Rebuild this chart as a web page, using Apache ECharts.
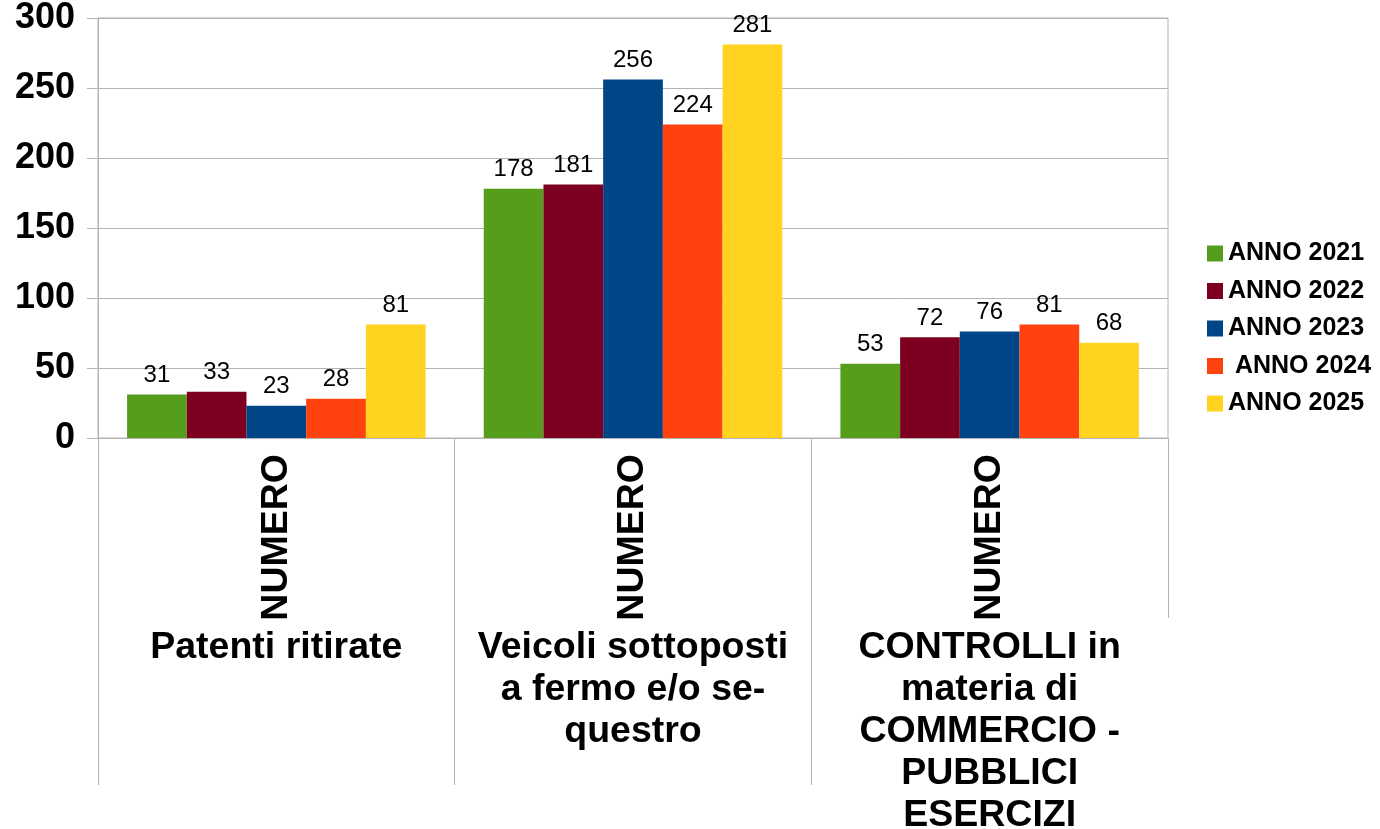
<!DOCTYPE html>
<html>
<head>
<meta charset="utf-8">
<script src="https://cdn.jsdelivr.net/npm/echarts@6/dist/echarts.min.js"></script>
<style>
html,body{margin:0;padding:0;background:#fff;}
#chart{width:1380px;height:829px;}
</style>
</head>
<body>
<div id="chart"></div>
<script>
var innerCategories = ['NUMERO', 'NUMERO', 'NUMERO'];
var outerCategories = [
  'Patenti ritirate',
  'Veicoli sottoposti\na fermo e/o se-\nquestro',
  'CONTROLLI in\nmateria di\nCOMMERCIO -\nPUBBLICI\nESERCIZI'
];
var seriesNames = ['ANNO 2021', 'ANNO 2022', 'ANNO 2023', ' ANNO 2024', 'ANNO 2025'];
var anno2021 = [31, 178, 53];
var anno2022 = [33, 181, 72];
var anno2023 = [23, 256, 76];
var anno2024 = [28, 224, 81];
var anno2025 = [81, 281, 68];
var yTicks = { min: 0, max: 300, interval: 50 };

var colors = ['#579D1C', '#7E0021', '#004586', '#FF420E', '#FFD320'];
var seriesData = [anno2021, anno2022, anno2023, anno2024, anno2025];
var FONT = '"Liberation Sans", Arial, sans-serif';
var GRID_LINE = '#b3b3b3';

var chart = echarts.init(document.getElementById('chart'), null, { renderer: 'canvas' });

var series = seriesNames.map(function (name, i) {
  return {
    name: name,
    type: 'bar',
    xAxisIndex: 0,
    yAxisIndex: 0,
    data: seriesData[i],
    itemStyle: { color: colors[i] },
    barGap: '0%',
    barCategoryGap: '16.3%',
    label: {
      show: true,
      position: 'top',
      distance: 7,
      color: '#000',
      fontFamily: FONT,
      fontSize: 24,
      fontWeight: 'normal'
    },
    emphasis: { disabled: true },
    animation: false
  };
});

chart.setOption({
  animation: false,
  backgroundColor: '#fff',
  grid: [
    { left: 98, right: 212, top: 18, height: 420, show: true, borderColor: GRID_LINE, borderWidth: 1, containLabel: false, outerBoundsMode: 'none' },
    { left: 98, right: 212, top: 618, height: 167, show: false, containLabel: false, outerBoundsMode: 'none' }
  ],
  legend: {
    orient: 'vertical',
    left: 1202,
    top: 236,
    itemWidth: 16,
    itemHeight: 16,
    itemGap: 12.5,
    icon: 'rect',
    data: seriesNames,
    textStyle: { fontFamily: FONT, fontSize: 25, fontWeight: 'bold', color: '#000', lineHeight: 25 },
    selectedMode: false
  },
  xAxis: [
    {
      type: 'category',
      gridIndex: 0,
      data: innerCategories,
      position: 'bottom',
      axisLine: { show: true, lineStyle: { color: GRID_LINE, width: 1 } },
      axisTick: { show: true, length: 180, lineStyle: { color: GRID_LINE, width: 1 } },
      axisLabel: {
        show: true, interval: 0, rotate: 90, margin: 16,
        fontFamily: FONT, fontSize: 37.5, fontWeight: 'bold', color: '#000'
      },
      splitLine: { show: false }
    },
    {
      type: 'category',
      gridIndex: 0,
      data: outerCategories,
      position: 'bottom',
      offset: 180,
      axisLine: { show: false },
      axisTick: { show: false },
      axisLabel: {
        show: true, interval: 0, margin: 9,
        fontFamily: FONT, fontSize: 37.5, fontWeight: 'bold', color: '#000',
        lineHeight: 42, align: 'center', verticalAlign: 'top'
      },
      splitLine: { show: false }
    },
    {
      type: 'category',
      gridIndex: 1,
      data: outerCategories,
      axisLine: { show: false },
      axisTick: { show: false },
      axisLabel: { show: false },
      splitLine: { show: true, showMinLine: true, showMaxLine: false, lineStyle: { color: GRID_LINE, width: 1 } }
    }
  ],
  yAxis: [
    {
      type: 'value',
      gridIndex: 0,
      min: yTicks.min,
      max: yTicks.max,
      interval: yTicks.interval,
      axisLine: { show: true, lineStyle: { color: GRID_LINE, width: 1 } },
      axisTick: { show: true, length: 11, lineStyle: { color: GRID_LINE, width: 1 } },
      axisLabel: { margin: 23, fontFamily: FONT, fontSize: 36, fontWeight: 'bold', color: '#000' },
      splitLine: { show: true, lineStyle: { color: GRID_LINE, width: 1 } }
    },
    {
      type: 'value',
      gridIndex: 1,
      show: false,
      min: 0,
      max: 1
    }
  ],
  series: series
});
</script>
</body>
</html>
